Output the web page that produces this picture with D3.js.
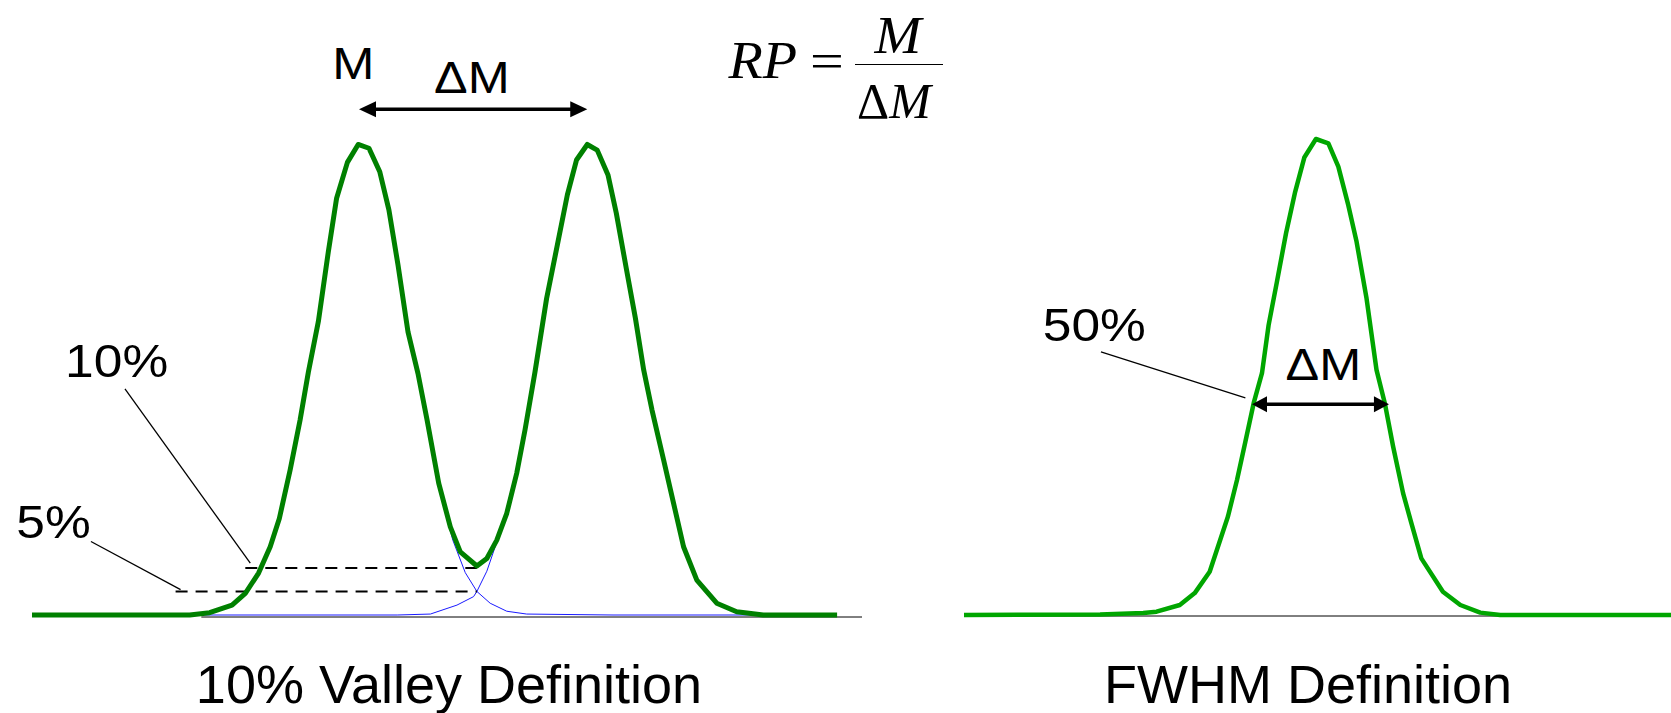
<!DOCTYPE html>
<html>
<head>
<meta charset="utf-8">
<script src="https://cdn.jsdelivr.net/npm/d3@7/dist/d3.min.js"></script>
<style>
html,body{margin:0;padding:0;background:#fff;}
svg{display:block;}
text{font-family:"Liberation Sans",Arial,sans-serif;fill:#000;}
.serif{font-family:"Liberation Serif","Times New Roman",serif;}
</style>
</head>
<body>
<svg id="chart" width="1671" height="713"></svg>
<script>
// ---------- DATA (mass units, intensity %) ----------
// Left panel: summed signal of two neighbouring peaks (10% valley)
const sumMass = [0, 19.0, 21.4, 24.1, 25.7, 27.3, 28.7, 29.8, 31.1, 32.3, 33.3, 34.5, 35.7, 36.7, 38.0, 39.3, 40.6, 41.9, 43.0, 44.1, 45.3, 46.5, 47.6, 49.0, 50.4, 51.6, 53.6, 54.8, 56.0, 57.2, 58.4, 59.4, 60.6, 62.0, 63.3, 64.5, 65.6, 66.9, 68.1, 69.4, 70.4, 71.6, 72.7, 73.7, 74.7, 76.1, 77.3, 78.5, 80.1, 82.5, 84.9, 88.1, 97.0];
const sumIntensity = [0, 0, 0.5, 2.1, 4.6, 8.9, 14.5, 20.5, 30.8, 41.4, 51.6, 62.3, 77.1, 88.5, 96.1, 99.9, 99.1, 94.1, 86.0, 74.3, 60.1, 51.3, 41.4, 28.0, 18.7, 13.4, 10.4, 12.0, 15.9, 21.6, 30.1, 39.3, 51.6, 67.2, 78.6, 89.2, 96.6, 99.9, 98.7, 93.4, 85.3, 73.6, 63.0, 52.0, 43.5, 32.9, 23.7, 14.5, 7.4, 2.5, 0.7, 0, 0];
// Individual peak 1
const peak1Mass = [19.0, 21.4, 24.1, 25.7, 27.3, 28.7, 29.8, 31.1, 32.3, 33.3, 34.5, 35.7, 36.7, 38.0, 39.3, 40.6, 41.9, 43.0, 44.1, 45.3, 46.5, 47.6, 49.0, 50.7, 52.2, 53.6, 55.2, 57.2, 59.6, 70.0, 88.1];
const peak1Intensity = [0, 0.5, 2.1, 4.6, 8.9, 14.5, 20.5, 30.8, 41.4, 51.6, 62.3, 77.1, 88.5, 96.1, 99.9, 99.1, 94.1, 86.0, 74.3, 60.1, 51.0, 41.0, 27.5, 15.9, 9.0, 5.0, 2.5, 0.8, 0.2, 0, 0];
// Individual peak 2
const peak2Mass = [19.0, 44.0, 48.0, 51.2, 53.2, 53.6, 54.8, 56.0, 57.2, 58.4, 59.4, 60.6, 62.0, 63.3, 64.5, 65.6, 66.9, 68.1, 69.4, 70.4, 71.6, 72.7, 73.7, 74.7, 76.1, 77.3, 78.5, 80.1, 82.5, 84.9, 88.1];
const peak2Intensity = [0, 0, 0.2, 2.1, 3.9, 5.0, 9.3, 15.5, 21.4, 30.0, 39.3, 51.6, 67.2, 78.6, 89.2, 96.6, 99.9, 98.7, 93.4, 85.3, 73.6, 63.0, 52.0, 43.5, 32.9, 23.7, 14.5, 7.4, 2.5, 0.7, 0];
// Right panel: single peak (FWHM)
const fwhmMass = [0, 16.4, 21.6, 23.2, 26.0, 27.8, 29.6, 31.8, 32.9, 33.9, 34.9, 35.9, 36.7, 37.7, 38.8, 39.9, 41.0, 42.4, 43.9, 45.1, 46.3, 47.3, 48.5, 49.7, 50.7, 51.7, 52.9, 53.9, 55.1, 57.7, 59.8, 62.2, 64.6, 86.0];
const fwhmIntensity = [0, 0.1, 0.4, 0.7, 2.1, 4.6, 9.1, 20.7, 28.4, 36.4, 44.5, 50.8, 60.9, 70.0, 80.2, 88.9, 96.1, 100, 99.1, 94.2, 86.1, 78.4, 66.5, 51.5, 44.5, 35.4, 25.6, 19.3, 11.9, 4.9, 2.1, 0.5, 0, 0];

// Valley levels (percent) and where their dashed guides start
const valleyLevels = [10, 5];
const valleyLabels = ["10%", "5%"];
const levelStartMass = [25.7, 17.3];
const valleyMass = 53.6;
// Resolution arrows: [from, to] mass, and height
const leftPeakApex = [39.4, 66.9];
const leftArrowLevel = 107.4;
const fwhmEdges = [34.7, 51.2];
const fwhmArrowLevel = 44.3;
const leftAxisSpan = [20.4, 100];
const rightAxisSpan = [0, 79.6];
const titles = ["10% Valley Definition", "FWHM Definition"];

// ---------- SCALES ----------
const xL = d3.scaleLinear().domain([0, 100]).range([32, 862]);
const yL = d3.scaleLinear().domain([0, 100]).range([615, 144]);
const xR = d3.scaleLinear().domain([0, 100]).range([964, 1794]);
const yR = d3.scaleLinear().domain([0, 100]).range([615, 139]);

const svg = d3.select("#chart");
const zip = (a, b) => a.map((v, i) => [v, b[i]]);

function arrow(g, x1, x2, y, head, half, w) {
  g.append("line").attr("x1", x1 + head - 2).attr("x2", x2 - head + 2)
    .attr("y1", y).attr("y2", y).attr("stroke", "#000").attr("stroke-width", w);
  g.append("path").attr("d", `M${x1},${y}L${x1 + head},${y - half}L${x1 + head},${y + half}Z`).attr("fill", "#000");
  g.append("path").attr("d", `M${x2},${y}L${x2 - head},${y - half}L${x2 - head},${y + half}Z`).attr("fill", "#000");
}
function label(g, txt, x, y, size, sx) {
  g.append("text").attr("transform", `translate(${x},${y}) scale(${sx},1)`)
    .attr("text-anchor", "middle").attr("font-size", size).text(txt);
}

// ---------- LEFT PANEL ----------
const L = svg.append("g");
L.append("line").attr("x1", xL(leftAxisSpan[0])).attr("x2", xL(leftAxisSpan[1]))
  .attr("y1", yL(0) + 2).attr("y2", yL(0) + 2).attr("stroke", "#000").attr("stroke-width", 1);

const lineL = d3.line().x(d => xL(d[0])).y(d => yL(d[1]));
[zip(peak1Mass, peak1Intensity), zip(peak2Mass, peak2Intensity)].forEach(p => {
  L.append("path").datum(p).attr("d", lineL).attr("fill", "none")
    .attr("stroke", "#1a1aff").attr("stroke-width", 1);
});

valleyLevels.forEach((lv, i) => {
  L.append("line").attr("x1", xL(levelStartMass[i])).attr("x2", xL(valleyMass))
    .attr("y1", yL(lv)).attr("y2", yL(lv)).attr("stroke", "#000").attr("stroke-width", 2)
    .attr("stroke-dasharray", "12,8");
});
L.append("path").datum(zip(sumMass, sumIntensity)).attr("d", lineL)
  .attr("fill", "none").attr("stroke", "#008000").attr("stroke-width", 5).attr("stroke-linejoin", "round");

// leaders & labels for the levels
const levelLabelPos = [[10.2, 50.5], [2.6, 16.3]];
const levelLeaderFrom = [[11.2, 48.0], [7.1, 15.6]];
const levelLeaderTo = [[26.3, 11.0], [17.9, 5.4]];
valleyLevels.forEach((lv, i) => {
  L.append("line").attr("x1", xL(levelLeaderFrom[i][0])).attr("y1", yL(levelLeaderFrom[i][1]))
    .attr("x2", xL(levelLeaderTo[i][0])).attr("y2", yL(levelLeaderTo[i][1]))
    .attr("stroke", "#000").attr("stroke-width", 1.3);
  label(L, valleyLabels[i], xL(levelLabelPos[i][0]), yL(levelLabelPos[i][1]), 46, 1.12);
});

arrow(L, xL(leftPeakApex[0]), xL(leftPeakApex[1]), yL(leftArrowLevel), 17, 8, 3.5);
label(L, "M", xL(38.7), yL(113.8), 44, 1.15);
label(L, "\u0394M", xL(53.0), yL(110.8), 45, 1.12);

// ---------- RIGHT PANEL ----------
const R = svg.append("g");
R.append("line").attr("x1", xR(rightAxisSpan[0])).attr("x2", xR(rightAxisSpan[1]))
  .attr("y1", yR(0) + 1).attr("y2", yR(0) + 1).attr("stroke", "#000").attr("stroke-width", 1);
const lineR = d3.line().x(d => xR(d[0])).y(d => yR(d[1]));
R.append("path").datum(zip(fwhmMass, fwhmIntensity)).attr("d", lineR)
  .attr("fill", "none").attr("stroke", "#00a600").attr("stroke-width", 4.5).attr("stroke-linejoin", "round");
arrow(R, xR(fwhmEdges[0]), xR(fwhmEdges[1]), yR(fwhmArrowLevel), 15, 8, 3.5);
R.append("line").attr("x1", xR(16.5)).attr("y1", yR(55.3)).attr("x2", xR(33.9)).attr("y2", yR(45.6))
  .attr("stroke", "#000").attr("stroke-width", 1.3);
label(R, "50%", xR(15.7), yR(57.6), 46, 1.12);
label(R, "\u0394M", xR(43.3), yR(49.4), 45, 1.12);

// ---------- TITLES ----------
label(svg, titles[0], 449, 703, 54, 1);
label(svg, titles[1], 1308, 703, 54, 1);

// ---------- FORMULA ----------
const F = svg.append("g").attr("class", "serif");
F.append("text").attr("transform", "translate(797,78) scale(1.08,1)").attr("text-anchor", "end")
  .attr("font-size", 52).attr("font-style", "italic").attr("class", "serif").text("RP");
F.append("text").attr("transform", "translate(827,78) scale(1.2,1)").attr("text-anchor", "middle")
  .attr("font-size", 50).attr("class", "serif").text("=");
F.append("line").attr("x1", 855).attr("x2", 943).attr("y1", 64.5).attr("y2", 64.5)
  .attr("stroke", "#000").attr("stroke-width", 1.2);
F.append("text").attr("transform", "translate(898,53) scale(1.08,1)").attr("text-anchor", "middle")
  .attr("font-size", 52).attr("font-style", "italic").attr("class", "serif").text("M");
const den = F.append("text").attr("x", 894).attr("y", 118).attr("text-anchor", "middle")
  .attr("font-size", 50).attr("class", "serif");
den.append("tspan").text("\u0394");
den.append("tspan").attr("font-style", "italic").text("M");
</script>
</body>
</html>
